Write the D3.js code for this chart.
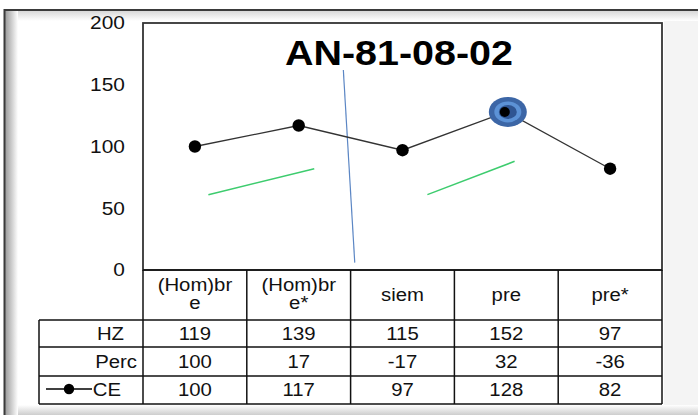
<!DOCTYPE html>
<html>
<head>
<meta charset="utf-8">
<script src="https://cdn.jsdelivr.net/npm/d3@7/dist/d3.min.js"></script>
<style>
  body { margin: 0; background: #fff; }
  svg { display: block; font-family: "Liberation Sans", Arial, sans-serif; }
</style>
</head>
<body>
<div id="chart"></div>
<script>
// chart data
const categories = ["(Hom)bre", "(Hom)bre*", "siem", "pre", "pre*"];
const headerLines = [["(Hom)br", "e"], ["(Hom)br", "e*"], ["siem"], ["pre"], ["pre*"]];
const rowNames = ["HZ", "Perc", "CE"];
const hzValues = [119, 139, 115, 152, 97];
const percValues = [100, 17, -17, 32, -36];
const ceValues = [100, 117, 97, 128, 82];
const yTicks = [0, 50, 100, 150, 200];
const titleText = "AN-81-08-02";
const highlightIndex = 3;
// hand-drawn annotation strokes, as [category index, value]
const greenLines = [
  [[0.13, 61], [1.15, 82]],
  [[2.24, 61], [3.08, 88]]
];
const blueLine = [[1.43, 162], [1.54, 6]];

const W = 698, H = 415;
const plot = { left: 143, right: 662, top: 23, bottom: 270 };
const rowLines = [270, 320, 347, 376, 404];
const tableLeft = 39;
const sx = 1.13; // text is slightly stretched sideways

const svg = d3.select("#chart").append("svg")
  .attr("width", W).attr("height", H);

// window style frame with soft shading
const defs = svg.append("defs");
const grad = (id, x2, y2, c1, c2) => {
  const g = defs.append("linearGradient").attr("id", id)
    .attr("x1", 0).attr("y1", 0).attr("x2", x2).attr("y2", y2);
  g.append("stop").attr("offset", 0).attr("stop-color", c1);
  g.append("stop").attr("offset", 1).attr("stop-color", c2);
};
grad("gLeft", 1, 0, "#9a9a9a", "#ffffff");
grad("gTop", 0, 1, "#d8d8d8", "#ffffff");
grad("gBottom", 0, 1, "#ffffff", "#c8c8c8");

svg.append("rect").attr("x", 5).attr("y", 11).attr("width", W).attr("height", H)
  .attr("fill", "#fff");
svg.append("rect").attr("x", 664).attr("y", 11).attr("width", 40).attr("height", H)
  .attr("fill", "#f4f4f4");
svg.append("rect").attr("x", 5).attr("y", 11).attr("width", W).attr("height", 10)
  .attr("fill", "url(#gTop)");
svg.append("rect").attr("x", 5).attr("y", 405).attr("width", W).attr("height", 11)
  .attr("fill", "url(#gBottom)");
svg.append("rect").attr("x", 5).attr("y", 11).attr("width", 13).attr("height", H)
  .attr("fill", "url(#gLeft)");
svg.append("path").attr("d", `M4.5,${H} V10 H${W}`)
  .attr("fill", "none").attr("stroke", "#3a3a3a").attr("stroke-width", 2);

// scales
const x = d3.scaleBand().domain(categories).range([plot.left, plot.right]);
const xi = d3.scaleLinear().domain([0, categories.length - 1])
  .range([x(categories[0]) + x.bandwidth() / 2, x(categories[categories.length - 1]) + x.bandwidth() / 2]);
const y = d3.scaleLinear().domain([0, 200]).range([plot.bottom, plot.top]);

// plot box
svg.append("rect")
  .attr("x", plot.left).attr("y", plot.top)
  .attr("width", plot.right - plot.left).attr("height", plot.bottom - plot.top)
  .attr("fill", "#fff").attr("stroke", "#333").attr("stroke-width", 1.8);

// y axis labels
const yAxis = svg.append("g")
  .attr("transform", `translate(${plot.left},0)`)
  .call(d3.axisLeft(y).tickValues(yTicks).tickSize(0).tickPadding(16));
yAxis.select(".domain").remove();
yAxis.selectAll("text")
  .attr("font-size", 18.5).attr("fill", "#111")
  .attr("font-family", "Liberation Sans, Arial, sans-serif")
  .attr("transform", `scale(${sx},1)`);

// title
svg.append("text")
  .attr("x", 399).attr("y", 65)
  .attr("text-anchor", "middle")
  .attr("font-size", 35).attr("font-weight", "bold").attr("fill", "#000")
  .attr("textLength", 228).attr("lengthAdjust", "spacingAndGlyphs")
  .text(titleText);

// annotation strokes
const pt = d => [xi(d[0]), y(d[1])];
greenLines.forEach(seg => {
  svg.append("path").attr("d", d3.line()(seg.map(pt)))
    .attr("stroke", "#3dcc6e").attr("stroke-width", 1.5).attr("fill", "none");
});
svg.append("path").attr("d", d3.line()(blueLine.map(pt)))
  .attr("stroke", "#5b86c4").attr("stroke-width", 1.2).attr("fill", "none");

// CE line
const ceData = ceValues.map((v, i) => ({ i, v }));
svg.append("path").datum(ceData)
  .attr("d", d3.line().x(d => xi(d.i)).y(d => y(d.v)))
  .attr("fill", "none").attr("stroke", "#333").attr("stroke-width", 1.3);

// highlight ring on one point
const hx = xi(highlightIndex), hy = y(ceValues[highlightIndex]);
[[19, 15, "#3c66a6"], [13.5, 10.5, "#5c92d6"], [9, 7, "#2f5592"]].forEach(([rx, ry, c]) => {
  svg.append("ellipse").attr("cx", hx + 1.5).attr("cy", hy).attr("rx", rx).attr("ry", ry).attr("fill", c);
});

svg.selectAll(".dot").data(ceData).enter().append("circle")
  .attr("class", "dot")
  .attr("cx", d => xi(d.i) - (d.i === highlightIndex ? 1.5 : 0))
  .attr("cy", d => y(d.v))
  .attr("r", d => d.i === highlightIndex ? 5 : 6.2)
  .attr("fill", "#000");

// data table
const grid = svg.append("g").attr("stroke", "#111").attr("stroke-width", 1.5);
rowLines.forEach((ry, k) => {
  grid.append("line").attr("x1", k === 0 ? plot.left : tableLeft).attr("x2", plot.right)
    .attr("y1", ry).attr("y2", ry);
});
grid.append("line").attr("x1", tableLeft).attr("x2", tableLeft)
  .attr("y1", rowLines[1]).attr("y2", rowLines[4]);
categories.forEach((c, i) => {
  grid.append("line").attr("x1", x(c)).attr("x2", x(c))
    .attr("y1", rowLines[0]).attr("y2", rowLines[4]);
});
grid.append("line").attr("x1", plot.right).attr("x2", plot.right)
  .attr("y1", rowLines[0]).attr("y2", rowLines[4]);

const txt = (tx, ty, s, anchor) => svg.append("text")
  .attr("transform", `translate(${tx},${ty}) scale(${sx},1)`)
  .attr("text-anchor", anchor || "middle")
  .attr("font-size", 18).attr("fill", "#111")
  .text(s);

// header cells
headerLines.forEach((lines, i) => {
  const cx = xi(i);
  if (lines.length === 1) txt(cx, 301, lines[0]);
  else lines.forEach((l, k) => txt(cx, 291 + k * 18, l));
});

// value rows
const rows = [hzValues, percValues, ceValues];
const baselines = [340, 368, 396];
rows.forEach((vals, r) => {
  vals.forEach((v, i) => txt(xi(i), baselines[r], v));
});

// row labels
txt(124, baselines[0], rowNames[0], "end");
txt(137, baselines[1], rowNames[1], "end");
txt(121, baselines[2], rowNames[2], "end");

// legend key for CE
svg.append("line").attr("x1", 46).attr("x2", 92).attr("y1", 389).attr("y2", 389)
  .attr("stroke", "#000").attr("stroke-width", 1.5);
svg.append("circle").attr("cx", 69).attr("cy", 389).attr("r", 5.2).attr("fill", "#000");
</script>
</body>
</html>
